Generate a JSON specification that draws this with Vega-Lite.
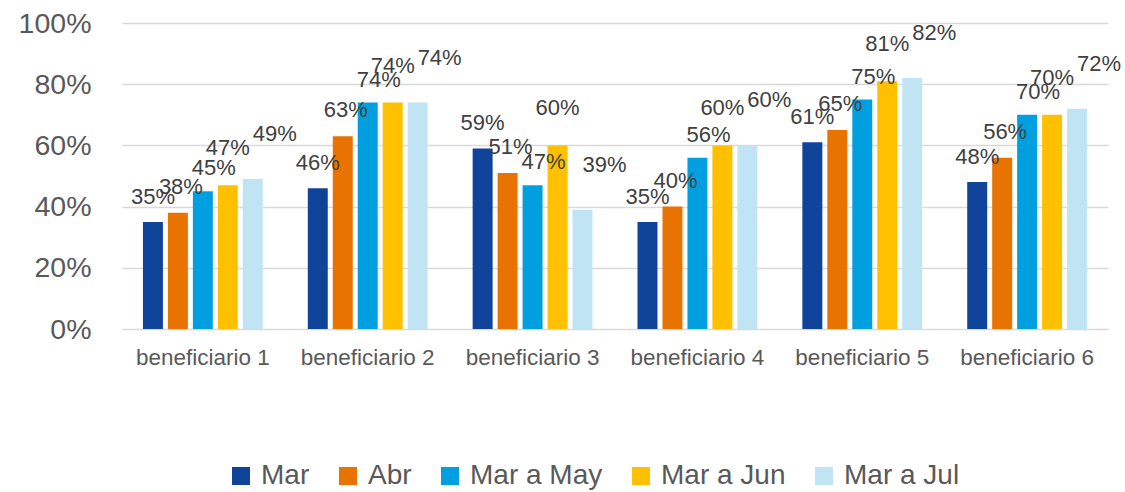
{
  "$schema": "https://vega.github.io/schema/vega-lite/v6.json",
  "width": 986,
  "height": 306,
  "autosize": {"type": "none"},
  "padding": {"left": 122, "top": 23, "right": 17, "bottom": 163},
  "background": "white",
  "config": {
    "view": {"stroke": null},
    "font": "Liberation Sans"
  },
  "data": {
    "values": [
      {"b": "beneficiario 1", "s": "Mar", "v": 0.35},
      {"b": "beneficiario 1", "s": "Abr", "v": 0.38},
      {"b": "beneficiario 1", "s": "Mar a May", "v": 0.45},
      {"b": "beneficiario 1", "s": "Mar a Jun", "v": 0.47},
      {"b": "beneficiario 1", "s": "Mar a Jul", "v": 0.49},
      {"b": "beneficiario 2", "s": "Mar", "v": 0.46},
      {"b": "beneficiario 2", "s": "Abr", "v": 0.63},
      {"b": "beneficiario 2", "s": "Mar a May", "v": 0.74},
      {"b": "beneficiario 2", "s": "Mar a Jun", "v": 0.74},
      {"b": "beneficiario 2", "s": "Mar a Jul", "v": 0.74},
      {"b": "beneficiario 3", "s": "Mar", "v": 0.59},
      {"b": "beneficiario 3", "s": "Abr", "v": 0.51},
      {"b": "beneficiario 3", "s": "Mar a May", "v": 0.47},
      {"b": "beneficiario 3", "s": "Mar a Jun", "v": 0.60},
      {"b": "beneficiario 3", "s": "Mar a Jul", "v": 0.39},
      {"b": "beneficiario 4", "s": "Mar", "v": 0.35},
      {"b": "beneficiario 4", "s": "Abr", "v": 0.40},
      {"b": "beneficiario 4", "s": "Mar a May", "v": 0.56},
      {"b": "beneficiario 4", "s": "Mar a Jun", "v": 0.60},
      {"b": "beneficiario 4", "s": "Mar a Jul", "v": 0.60},
      {"b": "beneficiario 5", "s": "Mar", "v": 0.61},
      {"b": "beneficiario 5", "s": "Abr", "v": 0.65},
      {"b": "beneficiario 5", "s": "Mar a May", "v": 0.75},
      {"b": "beneficiario 5", "s": "Mar a Jun", "v": 0.81},
      {"b": "beneficiario 5", "s": "Mar a Jul", "v": 0.82},
      {"b": "beneficiario 6", "s": "Mar", "v": 0.48},
      {"b": "beneficiario 6", "s": "Abr", "v": 0.56},
      {"b": "beneficiario 6", "s": "Mar a May", "v": 0.70},
      {"b": "beneficiario 6", "s": "Mar a Jun", "v": 0.70},
      {"b": "beneficiario 6", "s": "Mar a Jul", "v": 0.72}
    ]
  },
  "encoding": {
    "x": {
      "field": "b",
      "type": "nominal",
      "title": null,
      "scale": {"paddingInner": 0.273, "paddingOuter": 0.127},
      "axis": {
        "labelAngle": 0,
        "labelFont": "Liberation Sans",
        "labelFontSize": 22.5,
        "labelColor": "#595959",
        "labelPadding": 17,
        "ticks": false,
        "domain": false,
        "grid": false
      }
    },
    "xOffset": {
      "field": "s",
      "type": "nominal",
      "sort": ["Mar", "Abr", "Mar a May", "Mar a Jun", "Mar a Jul"],
      "scale": {"paddingInner": 0.2, "paddingOuter": 0}
    },
    "y": {
      "field": "v",
      "type": "quantitative",
      "title": null,
      "scale": {"domain": [0, 1], "nice": false},
      "axis": {
        "format": ".0%",
        "values": [0, 0.2, 0.4, 0.6, 0.8, 1],
        "labelFont": "Liberation Sans",
        "labelFontSize": 28.5,
        "labelColor": "#595959",
        "labelPadding": 31,
        "ticks": false,
        "domain": false,
        "gridColor": "#d9d9d9",
        "gridWidth": 1.5
      }
    }
  },
  "layer": [
    {
      "mark": {"type": "bar"},
      "encoding": {
        "color": {
          "field": "s",
          "type": "nominal",
          "scale": {
            "domain": ["Mar", "Abr", "Mar a May", "Mar a Jun", "Mar a Jul"],
            "range": ["#10439A", "#E97300", "#00A0E0", "#FFC000", "#C1E4F5"]
          },
          "legend": {
            "title": null,
            "orient": "none",
            "direction": "horizontal",
            "legendX": 105,
            "legendY": 439,
            "symbolType": "square",
            "symbolSize": 324,
            "symbolStrokeWidth": 0,
            "symbolOpacity": 1,
            "labelFont": "Liberation Sans",
            "labelFontSize": 28,
            "labelColor": "#595959",
            "labelOffset": 6,
            "columnPadding": 24,
            "labelLimit": 300
          }
        }
      }
    },
    {
      "transform": [{"filter": "datum.s === 'Mar'"}],
      "mark": {"type": "text", "baseline": "middle", "dx": 0, "dy": -25, "fontSize": 22, "color": "#404040", "font": "Liberation Sans"},
      "encoding": {"text": {"field": "v", "type": "quantitative", "format": ".0%"}}
    },
    {
      "transform": [{"filter": "datum.s === 'Abr'"}],
      "mark": {"type": "text", "baseline": "middle", "dx": 3, "dy": -26, "fontSize": 22, "color": "#404040", "font": "Liberation Sans"},
      "encoding": {"text": {"field": "v", "type": "quantitative", "format": ".0%"}}
    },
    {
      "transform": [{"filter": "datum.s === 'Mar a May'"}],
      "mark": {"type": "text", "baseline": "middle", "dx": 11, "dy": -23, "fontSize": 22, "color": "#404040", "font": "Liberation Sans"},
      "encoding": {"text": {"field": "v", "type": "quantitative", "format": ".0%"}}
    },
    {
      "transform": [{"filter": "datum.s === 'Mar a Jun'"}],
      "mark": {"type": "text", "baseline": "middle", "dx": 0, "dy": -37, "fontSize": 22, "color": "#404040", "font": "Liberation Sans"},
      "encoding": {"text": {"field": "v", "type": "quantitative", "format": ".0%"}}
    },
    {
      "transform": [{"filter": "datum.s === 'Mar a Jul'"}],
      "mark": {"type": "text", "baseline": "middle", "dx": 22, "dy": -45, "fontSize": 22, "color": "#404040", "font": "Liberation Sans"},
      "encoding": {"text": {"field": "v", "type": "quantitative", "format": ".0%"}}
    }
  ]
}
